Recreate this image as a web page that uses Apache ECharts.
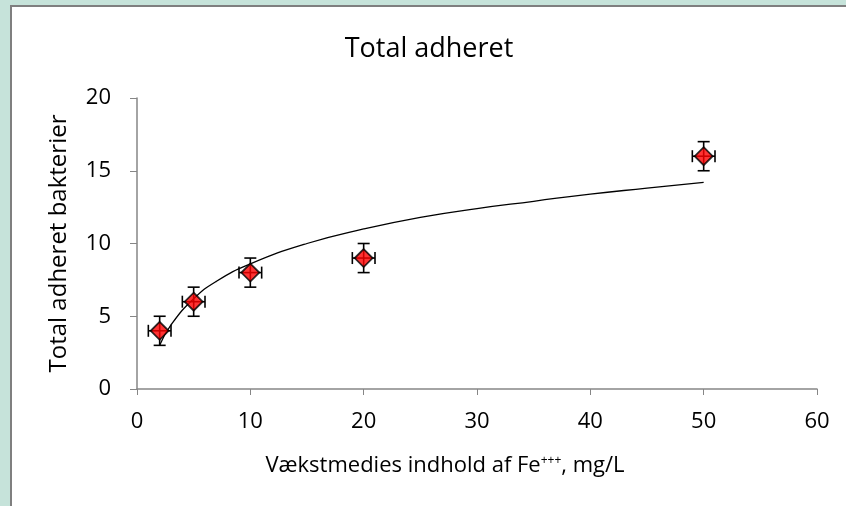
<!DOCTYPE html>
<html>
<head>
<meta charset="utf-8">
<script src="https://cdn.jsdelivr.net/npm/echarts@6/dist/echarts.min.js"></script>
<style>
    html, body { margin: 0; padding: 0; background: #c6e3da; }
    #wrap { position: absolute; left: 10px; top: 5px; width: 836px; height: 501px;
            border-left: 2px solid #7f7f7f; border-top: 2px solid #7f7f7f; background: #fff; }
    #chart { width: 834px; height: 499px; }
</style>
</head>
<body>
<div id="wrap"><div id="chart"></div></div>
<script>
    // measured points
    var feConc = [2, 5, 10, 20, 50];
    var adhered = [4, 6, 8, 9, 16];
    var xErr = [1, 1, 1, 1, 1];
    var yErr = [1, 1, 1, 1, 1];

    // trendline
    var trendX = [2, 3, 5, 7, 10, 15, 20, 25, 30, 35, 40, 45, 50];
    var trendY = [3.0, 4.4, 6.2, 7.4, 8.6, 10.0, 11.0, 11.8, 12.4, 12.9, 13.4, 13.8, 14.2];

    var xTicks = [0, 10, 20, 30, 40, 50, 60];
    var yTicks = [0, 5, 10, 15, 20];

    var font = '"Open Sans", "Noto Sans", sans-serif';

    var pts = feConc.map(function (x, i) { return [x, adhered[i], xErr[i], yErr[i]]; });
    var trend = trendX.map(function (x, i) { return [x, trendY[i]]; });

    var dom = echarts.init(document.getElementById('chart'));
    var option = {
        animation: false,
        title: {
            text: 'Total adheret',
            left: 'center',
            top: 24,
            padding: [5, 0, 5, 0],
            textStyle: { fontFamily: font, fontWeight: 'normal', fontSize: 27, color: '#000' }
        },
        grid: { left: 125, right: 29, top: 91, bottom: 117 },
        xAxis: {
            type: 'value',
            min: xTicks[0], max: xTicks[xTicks.length - 1], interval: 10,
            name: 'Vækstmedies indhold af Fe{sup|+++}, mg/L',
            nameLocation: 'middle',
            nameGap: 66,
            nameTextStyle: {
                fontFamily: font, fontSize: 22, color: '#000',
                padding: [0, 64, 0, 0],
                rich: {
                    sup: { fontFamily: font, fontSize: 12, color: '#000', verticalAlign: 'top', lineHeight: 12 }
                }
            },
            axisLine: { lineStyle: { color: '#868686', width: 1.5 } },
            axisTick: { show: true, length: 6, lineStyle: { color: '#868686' } },
            axisLabel: { fontFamily: font, fontSize: 22, color: '#000', margin: 22 },
            splitLine: { show: false }
        },
        yAxis: {
            type: 'value',
            min: yTicks[0], max: yTicks[yTicks.length - 1], interval: 5,
            name: 'Total adheret bakterier',
            nameLocation: 'middle',
            nameGap: 66,
            nameTextStyle: { fontFamily: font, fontSize: 24, color: '#000' },
            axisLine: { show: true, lineStyle: { color: '#868686', width: 1.5 } },
            axisTick: { show: true, length: 7, lineStyle: { color: '#868686' } },
            axisLabel: { fontFamily: font, fontSize: 22, color: '#000', margin: 26 },
            splitLine: { show: false }
        },
        series: [
            {
                type: 'line',
                data: trend,
                smooth: true,
                symbol: 'none',
                lineStyle: { color: '#000', width: 1.3 },
                z: 2
            },
            {
                type: 'custom',
                data: pts,
                z: 3,
                renderItem: function (params, api) {
                    var x = api.value(0), y = api.value(1), dx = api.value(2), dy = api.value(3);
                    var c = api.coord([x, y]);
                    var l = api.coord([x - dx, y]), r = api.coord([x + dx, y]);
                    var t = api.coord([x, y + dy]), b = api.coord([x, y - dy]);
                    var cap = 6;
                    var st = { stroke: '#000', lineWidth: 1.6 };
                    return {
                        type: 'group',
                        children: [
                            { type: 'line', shape: { x1: l[0], y1: c[1], x2: r[0], y2: c[1] }, style: st },
                            { type: 'line', shape: { x1: l[0], y1: c[1] - cap, x2: l[0], y2: c[1] + cap }, style: st },
                            { type: 'line', shape: { x1: r[0], y1: c[1] - cap, x2: r[0], y2: c[1] + cap }, style: st },
                            { type: 'line', shape: { x1: c[0], y1: t[1], x2: c[0], y2: b[1] }, style: st },
                            { type: 'line', shape: { x1: c[0] - cap, y1: t[1], x2: c[0] + cap, y2: t[1] }, style: st },
                            { type: 'line', shape: { x1: c[0] - cap, y1: b[1], x2: c[0] + cap, y2: b[1] }, style: st }
                        ]
                    };
                }
            },
            {
                type: 'scatter',
                data: pts.map(function (p) { return [p[0], p[1]]; }),
                symbol: 'diamond',
                symbolSize: 18,
                itemStyle: { color: '#ff0000', borderColor: '#000', borderWidth: 1.8 },
                z: 4
            }
        ]
    };
    dom.setOption(option);
    window.addEventListener('resize', dom.resize);
</script>
</body>
</html>
